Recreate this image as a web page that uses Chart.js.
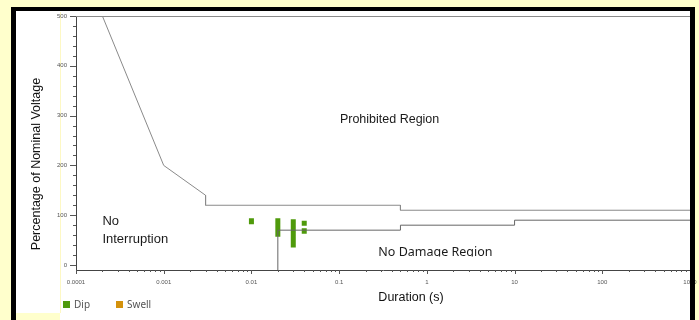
<!DOCTYPE html>
<html><head><meta charset="utf-8">
<script src="https://cdn.jsdelivr.net/npm/chart.js@4.4.0/dist/chart.umd.min.js"></script>
<style>
html,body{margin:0;padding:0;background:#FFFFCC;width:699px;height:320px;overflow:hidden;}
#panel{position:absolute;left:16px;top:11px;width:674px;height:309px;background:#fff;}
#vline{position:absolute;left:60px;top:12px;width:1px;height:301px;background:#fdf8c4;}
#corner{position:absolute;left:16px;top:313px;width:44px;height:7px;background:#FFFFCC;}
#wrap{position:absolute;left:0;top:0;width:699px;height:320px;}
#frame{position:absolute;left:11px;top:7px;width:674px;height:320px;border-left:5px solid #000;border-top:4px solid #000;border-right:5px solid #000;pointer-events:none;}
#legend{position:absolute;left:63px;top:297px;font-family:"Noto Sans",sans-serif;font-size:10px;color:#555;display:flex;}
.item{display:flex;align-items:center;margin-right:26px;}
.box{width:7px;height:7px;margin-right:4px;}
</style></head>
<body>
<div id="panel"></div>
<div id="vline"></div>
<div id="corner"></div>
<div id="wrap"><canvas id="c" width="699" height="320"></canvas></div>
<div id="frame"></div>
<div id="legend"></div>
<script>
// ---- data ----
const upperX = [0.0002, 0.001, 0.003, 0.003, 0.5, 0.5, 1000];
const upperY = [500, 200, 140, 120, 120, 110, 110];
const lowerX = [0.02, 0.02, 0.5, 0.5, 10, 10, 1000];
const lowerY = [-10, 70, 70, 80, 80, 90, 90];
const dipDuration = [0.01, 0.02, 0.03, 0.04, 0.04];
const dipLow  = [82, 57, 35, 79, 63];
const dipHigh = [94, 94, 92, 89, 74];
const swellDuration = [];
const swellLow = [];
const swellHigh = [];
const seriesNames = ['Dip', 'Swell'];
const seriesColors = ['#4f9a0b', '#d4920c'];
const xTickValues = [0.0001, 0.001, 0.01, 0.1, 1, 10, 100, 1000];
const xTickLabels = ['0.0001', '0.001', '0.01', '0.1', '1', '10', '100', '1000'];
const yTickValues = [0, 100, 200, 300, 400, 500];
const yTickLabels = ['0', '100', '200', '300', '400', '500'];
const regionLabels = ['Prohibited Region', 'No', 'Interruption', 'No Damage Region'];

// ---- helpers ----
function pts(xs, ys){ return xs.map((x,i)=>({x:x, y:ys[i]})); }
function segs(xs, lo, hi){
  const out = [];
  xs.forEach((x,i)=>{ out.push({x:x,y:lo[i]}, {x:x,y:hi[i]}, {x:x,y:null}); });
  return out;
}

const labelPlacement = [
  {x:0.102, y:286, font:'12.5px "Liberation Sans", Arial', clip:false},
  {x:0.0002, y:81, font:'13px "Liberation Sans", Arial', clip:false},
  {x:0.0002, y:45, font:'13px "Liberation Sans", Arial', clip:false},
  {x:0.28, y:18, font:'12.5px "Noto Sans", sans-serif', clip:true}
];

const decorations = {
  id:'decorations',
  afterDraw(chart){
    const {ctx, chartArea:a, scales:{x, y}} = chart;
    ctx.save();
    ctx.lineWidth = 1;
    // top border
    ctx.strokeStyle = '#8a8a8a';
    ctx.beginPath(); ctx.moveTo(a.left, a.top + 0.5); ctx.lineTo(a.right, a.top + 0.5); ctx.stroke();
    // y ticks (major + minor)
    ctx.strokeStyle = '#555';
    ctx.beginPath();
    for (let v = 0; v <= 500; v += 20) {
      const py = Math.round(y.getPixelForValue(v)) + 0.5;
      const len = (v % 100 === 0) ? 6 : 3;
      ctx.moveTo(a.left - len, py); ctx.lineTo(a.left, py);
    }
    // x ticks (log)
    for (let e = -4; e < 3; e++) {
      for (let m = 1; m <= 9; m++) {
        const v = m * Math.pow(10, e);
        const px = Math.round(x.getPixelForValue(v)) + 0.5;
        const len = (m === 1) ? 4 : 2;
        ctx.moveTo(px, a.bottom); ctx.lineTo(px, a.bottom + len);
      }
    }
    const pxEnd = Math.round(x.getPixelForValue(1000)) + 0.5;
    ctx.moveTo(pxEnd, a.bottom); ctx.lineTo(pxEnd, a.bottom + 4);
    ctx.stroke();
    // region labels
    ctx.fillStyle = '#1a1a1a';
    ctx.textBaseline = 'alphabetic';
    ctx.textAlign = 'left';
    regionLabels.forEach((t, i) => {
      const p = labelPlacement[i];
      ctx.save();
      if (p.clip) {
        ctx.beginPath();
        ctx.rect(a.left, a.top, a.right - a.left, y.getPixelForValue(17) - a.top);
        ctx.clip();
      }
      ctx.font = p.font;
      ctx.fillText(t, x.getPixelForValue(p.x), y.getPixelForValue(p.y));
      ctx.restore();
    });
    // axis titles
    ctx.fillStyle = '#111';
    ctx.font = '12.5px "Liberation Sans", Arial';
    ctx.textAlign = 'center';
    ctx.textBaseline = 'middle';
    ctx.fillText('Duration (s)', 411, 298);
    ctx.save();
    ctx.translate(37, 164);
    ctx.rotate(-Math.PI / 2);
    ctx.fillText('Percentage of Nominal Voltage', 0, 0);
    ctx.restore();
    ctx.restore();
  }
};

new Chart(document.getElementById('c'), {
  type: 'scatter',
  data: {
    datasets: [
      {label:'upper', data: pts(upperX, upperY), showLine:true, borderColor:'#8a8a8a', borderWidth:1, pointRadius:0, order:0},
      {label:'lower', data: pts(lowerX, lowerY), showLine:true, borderColor:'#666', borderWidth:1, pointRadius:0, order:0},
      {label:seriesNames[0], data: segs(dipDuration, dipLow, dipHigh), showLine:true, spanGaps:false, borderColor:seriesColors[0], borderWidth:5, borderCapStyle:'butt', pointRadius:0, order:1},
      {label:seriesNames[1], data: segs(swellDuration, swellLow, swellHigh), showLine:true, spanGaps:false, borderColor:seriesColors[1], borderWidth:5, borderCapStyle:'butt', pointRadius:0, order:1}
    ]
  },
  options: {
    responsive:false, animation:false,
    layout:{padding:{left:0, right:9, top:16, bottom:0}},
    plugins:{legend:{display:false}, tooltip:{enabled:false}},
    scales:{
      x:{
        type:'logarithmic', min:0.0001, max:1000,
        grid:{display:false}, border:{display:true, color:'#444', width:1},
        afterBuildTicks: s => { s.ticks = xTickValues.map(v => ({value:v})); },
        ticks:{callback:(v, i) => xTickLabels[i], font:{size:6, family:'"Liberation Sans", Arial'}, color:'#555', maxRotation:0, autoSkip:false, padding:1},
        afterFit: s => { s.height = 50; s.paddingLeft = 0; s.paddingRight = 0; }
      },
      y:{
        min:-10, max:500,
        grid:{display:false}, border:{display:true, color:'#444', width:1},
        afterBuildTicks: s => { s.ticks = yTickValues.map(v => ({value:v})); },
        ticks:{callback:(v, i) => yTickLabels[i], font:{size:6, family:'"Liberation Sans", Arial'}, color:'#555', padding:1, autoSkip:false},
        afterFit: s => { s.width = 76; s.paddingTop = 0; s.paddingBottom = 0; }
      }
    }
  },
  plugins:[decorations]
});

// legend
const lg = document.getElementById('legend');
seriesNames.forEach((n, i) => {
  const it = document.createElement('div'); it.className = 'item';
  const b = document.createElement('div'); b.className = 'box'; b.style.background = seriesColors[i];
  const t = document.createElement('span'); t.textContent = n;
  it.appendChild(b); it.appendChild(t); lg.appendChild(it);
});
</script>
</body></html>
